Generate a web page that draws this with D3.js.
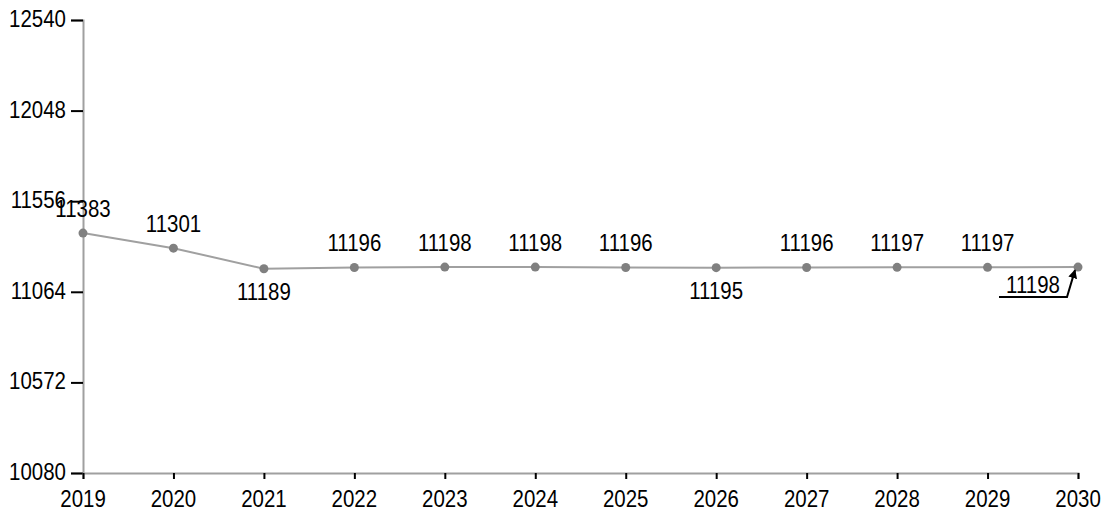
<!DOCTYPE html>
<html>
<head>
<meta charset="utf-8">
<script src="https://cdn.jsdelivr.net/npm/d3@7"></script>
<style>
  body { margin: 0; background: #fff; }
  text { font-family: "Liberation Sans", Arial, sans-serif; font-size: 22px; fill: #000; }
</style>
</head>
<body>
<svg id="chart" width="1106" height="513"></svg>
<script>
// data
let YEARS = [2019, 2020, 2021, 2022, 2023, 2024, 2025, 2026, 2027, 2028, 2029, 2030];
let VALUES = [11383, 11301, 11189, 11196, 11198, 11198, 11196, 11195, 11196, 11197, 11197, 11198];
// where each point label sits: above, below, or callout
let LABEL_POS = ['above', 'above', 'below', 'above', 'above', 'above', 'above', 'below', 'above', 'above', 'above', 'callout'];
let Y_TICKS = [10080, 10572, 11064, 11556, 12048, 12540];

let AXIS_COLOR = '#a0a0a0';
let LINE_COLOR = '#a0a0a0';
let POINT_COLOR = '#808080';

let svg = d3.select('#chart');

let x = d3.scaleLinear().domain([2019, 2030]).range([83, 1078]);
let y = d3.scaleLinear().domain([10080, 12540]).range([473, 20]);

// the source font is a bit narrow and tall, so squeeze the text a little
function label(g, px, py, str, anchor) {
    return g.append('text')
        .attr('transform', `translate(${px},${py}) scale(0.93,1.07)`)
        .attr('text-anchor', anchor)
        .text(str);
}

// axes (ticks only, labels drawn by hand)
let yAxis = svg.append('g').attr('transform', 'translate(83,0)')
    .call(d3.axisLeft(y).tickValues(Y_TICKS).tickSize(12).tickFormat(''));
let xAxis = svg.append('g').attr('transform', 'translate(0,473)')
    .call(d3.axisBottom(x).tickValues(YEARS).tickSize(6).tickFormat(''));

[yAxis, xAxis].forEach(ax => {
    ax.select('.domain').attr('stroke', AXIS_COLOR).attr('stroke-width', 2);
    ax.selectAll('.tick line').attr('stroke', '#000').attr('stroke-width', 2);
});

Y_TICKS.forEach(t => label(svg, 66, y(t) + 7, t, 'end'));
YEARS.forEach(t => label(svg, x(t), 507, t, 'middle'));

let points = YEARS.map((yr, i) => ({ year: yr, value: VALUES[i], pos: LABEL_POS[i] }));

// line
svg.append('path')
    .datum(points)
    .attr('fill', 'none')
    .attr('stroke', LINE_COLOR)
    .attr('stroke-width', 2)
    .attr('d', d3.line().x(d => x(d.year)).y(d => y(d.value)));

// points
svg.selectAll('circle.pt').data(points).enter().append('circle')
    .attr('class', 'pt')
    .attr('cx', d => x(d.year))
    .attr('cy', d => y(d.value))
    .attr('r', 4.5)
    .attr('fill', POINT_COLOR);

// point labels
points.filter(d => d.pos !== 'callout').forEach(d => {
    let py = d.pos === 'above' ? y(d.value) - 16 : y(d.value) + 31;
    label(svg, x(d.year), py, d.value, 'middle');
});

// callout label for the last point
svg.append('defs').append('marker')
    .attr('id', 'arrow')
    .attr('viewBox', '0 0 10 10')
    .attr('refX', 9).attr('refY', 5)
    .attr('markerWidth', 4.5).attr('markerHeight', 4.5)
    .attr('orient', 'auto')
    .append('path').attr('d', 'M0,0 L10,5 L0,10 z').attr('fill', '#000');

points.filter(d => d.pos === 'callout').forEach(d => {
    let px = x(d.year), py = y(d.value);
    label(svg, px - 45, py + 26, d.value, 'middle');
    svg.append('polyline')
        .attr('points', [[px - 79, py + 30], [px - 11, py + 30], [px - 3, py + 3]].map(p => p.join(',')).join(' '))
        .attr('fill', 'none')
        .attr('stroke', '#000')
        .attr('stroke-width', 2)
        .attr('marker-end', 'url(#arrow)');
});
</script>
</body>
</html>
